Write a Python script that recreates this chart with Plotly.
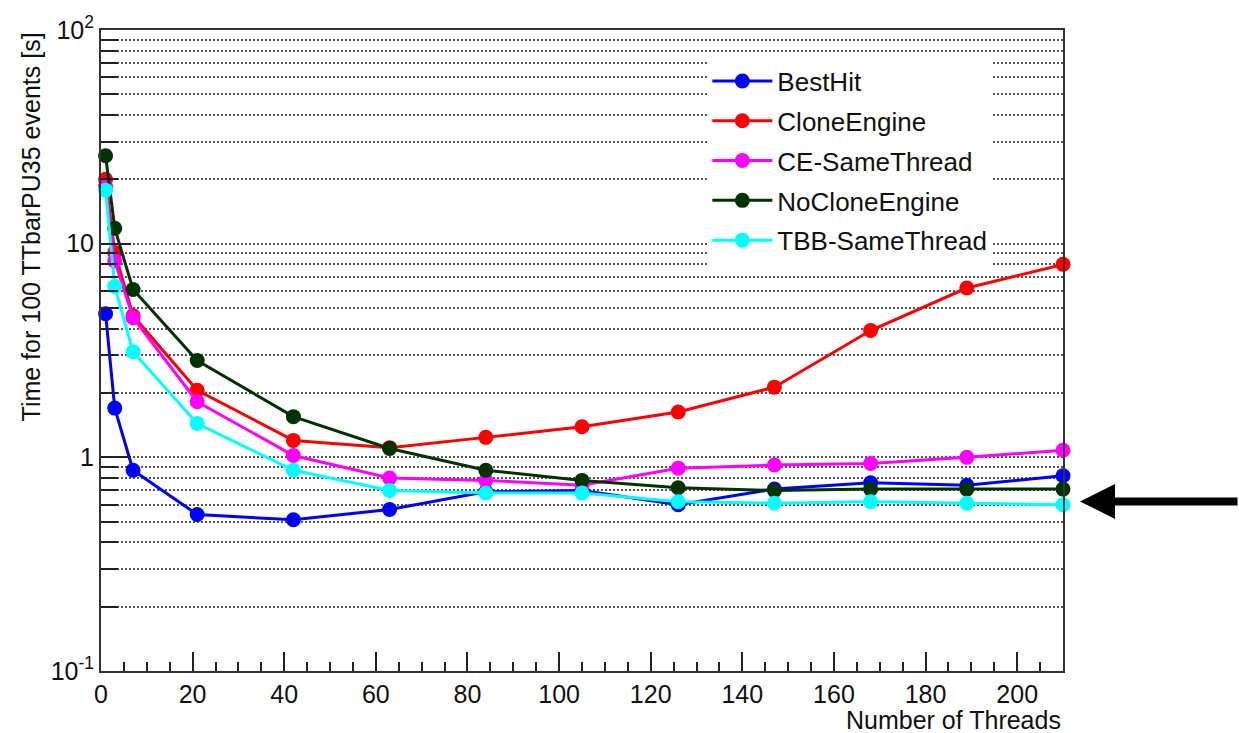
import plotly.graph_objects as go

threads = [1, 3, 7, 21, 42, 63, 84, 105, 126, 147, 168, 189, 210]
best_hit = [4.7, 1.70, 0.87, 0.54, 0.51, 0.57, 0.69, 0.70, 0.60, 0.71, 0.76, 0.74, 0.82]
clone_engine = [20.0, 9.1, 4.6, 2.06, 1.20, 1.11, 1.24, 1.39, 1.63, 2.13, 3.92, 6.2, 8.0]
ce_same_thread = [18.5, 8.3, 4.5, 1.82, 1.02, 0.80, 0.78, 0.74, 0.89, 0.92, 0.935, 1.0, 1.08]
no_clone_engine = [25.8, 11.8, 6.1, 2.84, 1.55, 1.10, 0.87, 0.78, 0.72, 0.70, 0.71, 0.71, 0.71]
tbb_same_thread = [17.8, 6.3, 3.12, 1.44, 0.87, 0.70, 0.68, 0.68, 0.62, 0.61, 0.62, 0.61, 0.60]

series = [
    ("BestHit", best_hit, "#0000ff"),
    ("CloneEngine", clone_engine, "#ff0000"),
    ("CE-SameThread", ce_same_thread, "#ff00ff"),
    ("NoCloneEngine", no_clone_engine, "#003300"),
    ("TBB-SameThread", tbb_same_thread, "#00ffff"),
]

y_tickvals = [0.1, 1, 10, 100]
y_ticktext = ["10<sup>-1</sup>", "1", "10", "10<sup>2</sup>"]

FONT = "Liberation Sans, Arial, Helvetica, sans-serif"

fig = go.Figure()
for i, (name, vals, col) in enumerate(series):
    fig.add_trace(go.Scatter(
        x=threads, y=vals, name=name, mode="lines+markers",
        line=dict(color=col, width=3),
        marker=dict(color=col, size=15, symbol="circle"),
        cliponaxis=False, legendgroup=f"g{i}",
    ))

fig.update_layout(
    width=1239, height=733,
    margin=dict(l=101, r=176, t=21, b=62),
    paper_bgcolor="white", plot_bgcolor="white",
    font=dict(family=FONT, size=25, color="#111"),
    showlegend=True,
    legend=dict(
        x=0.6303, y=0.957, xanchor="left", yanchor="top",
        bgcolor="white", borderwidth=0,
        font=dict(size=26, color="#111"),
        itemwidth=60, traceorder="grouped", tracegroupgap=3,
    ),
    xaxis=dict(
        range=[0, 210], showgrid=False, zeroline=False,
        tick0=0, dtick=20, ticks="inside", ticklen=19, tickwidth=1.5, tickcolor="#222",
        minor=dict(dtick=5, ticks="inside", ticklen=9, tickwidth=1.5, tickcolor="#222", showgrid=False),
        showline=True, linecolor="#333", linewidth=2, mirror=True,
        tickfont=dict(size=25),
    ),
    yaxis=dict(
        type="log", range=[-1, 2], zeroline=False,
        tickvals=y_tickvals, ticktext=y_ticktext,
        ticks="inside", ticklen=30, tickwidth=1.5, tickcolor="#222",
        showgrid=True, gridcolor="#555", gridwidth=1.5, griddash="1.5px,2.5px",
        minor=dict(dtick="D1", ticks="inside", ticklen=17, tickwidth=1.5, tickcolor="#222",
                   showgrid=True, gridcolor="#555", gridwidth=1.5, griddash="1.5px,2.5px"),
        showline=True, linecolor="#333", linewidth=2, mirror=True,
        tickfont=dict(size=25),
    ),
    annotations=[
        dict(text="Time for 100 TTbarPU35 events [s]", xref="paper", yref="paper",
             x=-0.0728, y=1.0, xanchor="center", yanchor="top", textangle=-90,
             showarrow=False, font=dict(size=25, color="#111")),
        dict(text="Number of Threads", xref="paper", yref="paper",
             x=1.0, y=-0.0770, xanchor="right", yanchor="middle",
             showarrow=False, font=dict(size=25, color="#111")),
        dict(text="", xref="paper", yref="paper", x=1.0177, y=0.2646,
             showarrow=True, arrowhead=2, arrowwidth=8, arrowsize=0.875,
             arrowcolor="black", ax=165, ay=0),
    ],
)

fig.write_html("out.html")
